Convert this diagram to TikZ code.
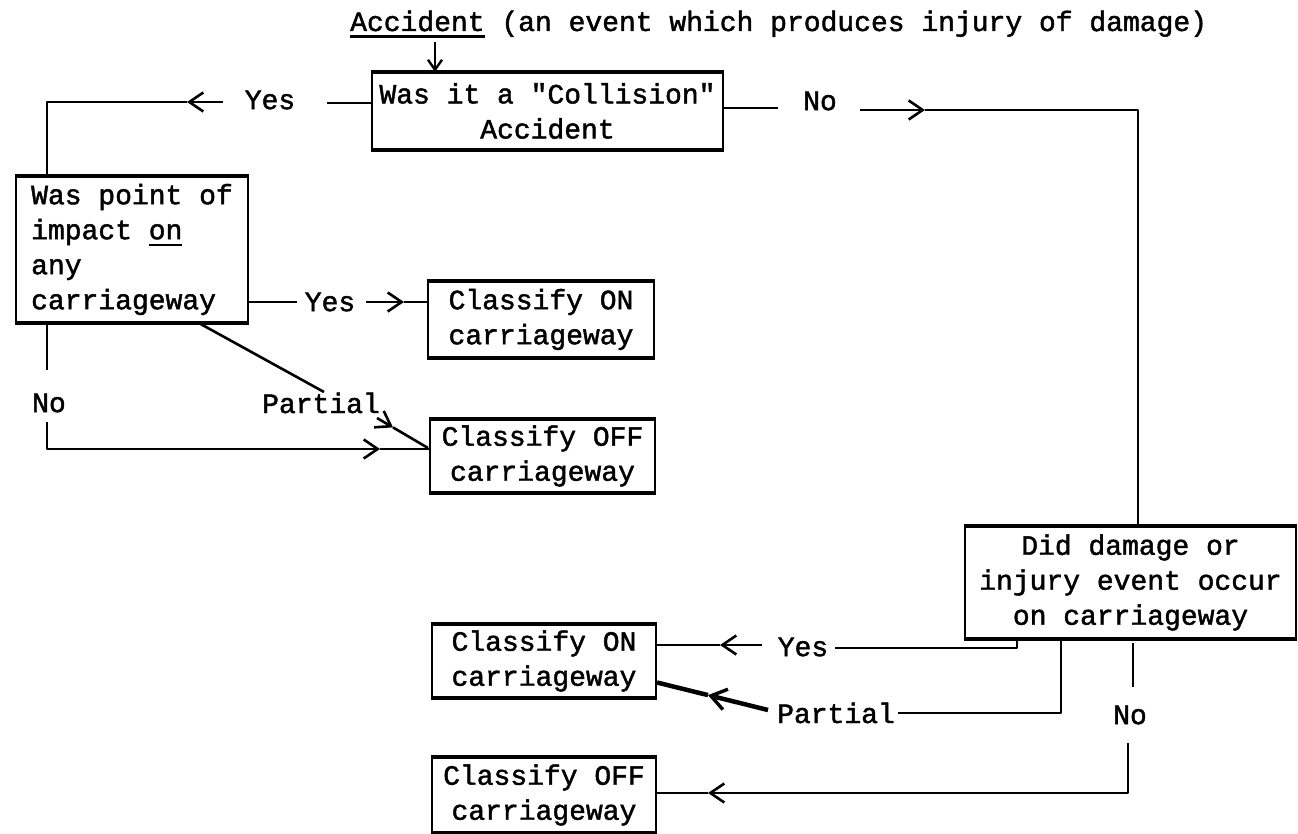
\documentclass[tikz,border=0pt]{standalone}
\usepackage{fontspec}
\setmainfont{Liberation Mono}[FakeBold=1.6, Ligatures=TeXOff]
\setmonofont{Liberation Mono}[FakeBold=1.6, Ligatures=TeXOff]
\usetikzlibrary{arrows.meta}
% underline drawn as a typewriter-style rule under a word
\newcommand{\typeul}[1]{\sbox0{#1}\rlap{\rule[-7pt]{\wd0}{2.6pt}}#1}
\begin{document}
\begin{tikzpicture}[x=1pt,y=-1pt,
  font=\fontsize{28}{35}\selectfont,
  every node/.style={inner sep=0pt},
  line/.style={line width=2.6pt, line join=round},
  hd/.style={line width=2.6pt, line join=round, -{Straight Barb[length=14pt,width=19pt,line width=2.6pt]}},
  hdthick/.style={line width=4.5pt, -{Straight Barb[length=15pt,width=21pt,line width=3.4pt]}},
  hdsmall/.style={line width=2.4pt, -{Straight Barb[length=10pt,width=14pt,line width=2.4pt]}},
  tbox/.style={draw, line width=2.2pt, align=center,
    append after command={(\tikzlastnode.north west) edge[line width=3.4pt] (\tikzlastnode.north east)
                          (\tikzlastnode.south west) edge[line width=3.4pt] (\tikzlastnode.south east)}}]
\useasboundingbox (0,0) rectangle (1298,834);

% ---- headline ----
\node[anchor=base west] (title) at (350,31) {\typeul{Accident} (an event which produces injury of damage)};

% ---- boxes ----
\node[tbox, minimum width=351pt, minimum height=76pt] (q1) at (547.5,111) {Was it a "Collision"\\Accident};
\node[tbox, minimum width=232pt, minimum height=145pt, align=left] (q2) at (132,249.5) {Was point of\\impact \typeul{on}\\any\\carriageway};
\node[tbox, minimum width=226pt, minimum height=75pt] (on1) at (541,319.5) {Classify ON\\carriageway};
\node[tbox, minimum width=225pt, minimum height=72pt] (off1) at (542.5,456) {Classify OFF\\carriageway};
\node[tbox, minimum width=331pt, minimum height=111pt] (q3) at (1130.5,582.5) {Did damage or\\injury event occur\\on carriageway};
\node[tbox, minimum width=224pt, minimum height=72pt] (on2) at (544,661) {Classify ON\\carriageway};
\node[tbox, minimum width=224pt, minimum height=74pt] (off2) at (544,795) {Classify OFF\\carriageway};

% ---- branch labels ----
\node (yes1) at (270,100) {Yes};
\node (no1) at (820,101) {No};
\node (yes2) at (330,302) {Yes};
\node (part1) at (321,403) {Partial};
\node (no2) at (49,403) {No};
\node (yes3) at (803,647) {Yes};
\node (part2) at (836,713) {Partial};
\node (no3) at (1130,715) {No};

% ---- headline into first question ----
\coordinate (t1) at (435,42);
\draw[hdsmall] (t1) -- (t1 |- q1.north);

% ---- collision: yes ----
\coordinate (a1) at (327,103);
\draw[line] (a1 -| q1.west) -- (a1);
\coordinate (a2) at (223,102);
\coordinate (a3) at (187,102);
\coordinate (a4) at (47,102);
\draw[hd] (a2) -- (a3);
\draw[line] (a3) -- (a4) -- (a4 |- q2.north);

% ---- collision: no ----
\coordinate (b1) at (778,108);
\draw[line] (b1 -| q1.east) -- (b1);
\coordinate (b2) at (860,110);
\coordinate (b3) at (925,110);
\coordinate (b4) at (1138,110);
\draw[hd] (b2) -- (b3);
\draw[line] (b3) -- (b4) -- (b4 |- q3.north);

% ---- point of impact: yes ----
\coordinate (c1) at (297,302);
\draw[line] (c1 -| q2.east) -- (c1);
\coordinate (c2) at (366,302);
\coordinate (c3) at (404,302);
\draw[hd] (c2) -- (c3);
\draw[line] (c3) -- (c3 -| on1.west);

% ---- point of impact: partial ----
\coordinate (d0) at (199,0);
\coordinate (d1) at (324,392);
\draw[line] (d0 |- q2.south) -- (d1);
\coordinate (d2) at (377,418);
\coordinate (d3) at (393,427.4);
\coordinate (d4) at (428,448);
\draw[hd] (d2) -- (d3);
\draw[line] (d3) -- (d4);

% ---- point of impact: no ----
\coordinate (e0) at (47,370);
\draw[line] (e0 |- q2.south) -- (e0);
\coordinate (e1) at (47,422);
\coordinate (e2) at (47,449);
\coordinate (e3) at (380,449);
\draw[hd] (e1) -- (e2) -- (e3);
\draw[line] (e3) -- (e3 -| off1.west);

% ---- damage event: yes ----
\coordinate (f0) at (1017,648);
\coordinate (f1) at (835,648);
\draw[line] (f0 |- q3.south) -- (f0) -- (f1);
\coordinate (f2) at (762,645);
\coordinate (f3) at (720,645);
\draw[hd] (f2) -- (f3);
\draw[line] (f3) -- (f3 -| on2.east);

% ---- damage event: partial ----
\coordinate (g0) at (1061,713);
\coordinate (g1) at (898,713);
\draw[line] (g0 |- q3.south) -- (g0) -- (g1);
\coordinate (g2) at (768,710);
\coordinate (g3) at (708,695.1);
\coordinate (g4) at (657,682.5);
\draw[hdthick] (g2) -- (g3);
\draw[line width=4.5pt] (g3) -- (g4);

% ---- damage event: no ----
\coordinate (h0) at (1133,643);
\coordinate (h1) at (1133,687);
\draw[line] (h0) -- (h1);
\coordinate (h2) at (1128,743);
\coordinate (h3) at (1128,793);
\coordinate (h4) at (708,793);
\draw[hd] (h2) -- (h3) -- (h4);
\draw[line] (h4) -- (h4 -| off2.east);
\end{tikzpicture}
\end{document}
